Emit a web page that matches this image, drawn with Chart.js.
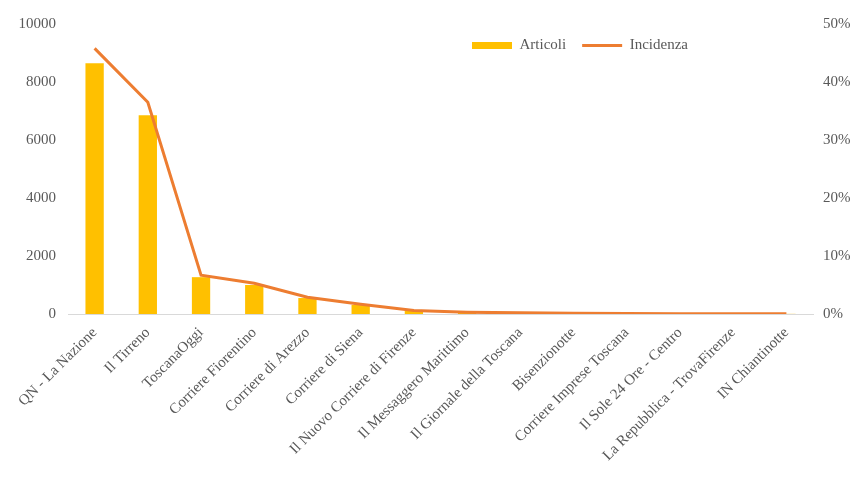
<!DOCTYPE html>
<html>
<head>
<meta charset="utf-8">
<script src="https://cdn.jsdelivr.net/npm/chart.js@4"></script>
<style>
  html, body { margin: 0; padding: 0; background: #fff; }
  .chart-container { width: 856px; height: 480px; position: relative; }
</style>
</head>
<body>
<div class="chart-container">
  <canvas id="chart"></canvas>
</div>
<script>
const testate = [
  'QN - La Nazione', 'Il Tirreno', 'ToscanaOggi', 'Corriere Fiorentino',
  'Corriere di Arezzo', 'Corriere di Siena', 'Il Nuovo Corriere di Firenze',
  'Il Messaggero Marittimo', 'Il Giornale della Toscana', 'Bisenzionotte',
  'Corriere Imprese Toscana', 'Il Sole 24 Ore - Centro',
  'La Repubblica - TrovaFirenze', 'IN Chiantinotte'
];
const articoli = [8650, 6850, 1270, 1000, 550, 310, 110, 55, 35, 25, 15, 10, 8, 5];
const incidenza = [45.8, 36.5, 6.7, 5.3, 2.9, 1.7, 0.6, 0.3, 0.2, 0.15, 0.1, 0.05, 0.04, 0.03];
const leftTicks = [0, 2000, 4000, 6000, 8000, 10000];
const rightTicks = [0, 10, 20, 30, 40, 50];

const textColor = '#595959';
const font = { family: '"Liberation Serif", "Times New Roman", serif', size: 15 };

// legenda su una riga, dentro l'area del grafico in alto a destra
const moveLegend = {
  id: 'moveLegend',
  beforeLayout(chart) {
    chart.legend.isHorizontal = () => true;
  },
  afterLayout(chart) {
    const lg = chart.legend;
    const dx = 456 - lg.left;
    lg.left += dx;
    lg.right += dx;
    lg.top -= 2;
    lg.bottom -= 2;
  }
};

new Chart(document.getElementById('chart'), {
  data: {
    labels: testate,
    datasets: [
      {
        type: 'bar',
        label: 'Articoli',
        data: articoli,
        backgroundColor: '#FFC000',
        borderWidth: 0,
        barPercentage: 0.43,
        categoryPercentage: 0.8,
        yAxisID: 'y',
        order: 2,
        pointStyle: 'rect'
      },
      {
        type: 'line',
        label: 'Incidenza',
        data: incidenza,
        borderColor: '#ED7D31',
        backgroundColor: '#ED7D31',
        borderWidth: 3,
        pointRadius: 0,
        tension: 0,
        yAxisID: 'y1',
        order: 1,
        pointStyle: 'line'
      }
    ]
  },
  options: {
    responsive: true,
    maintainAspectRatio: false,
    animation: false,
    layout: { padding: { top: 24, left: 0, right: 0, bottom: 0 } },
    plugins: {
      tooltip: { enabled: false },
      legend: {
        position: 'chartArea',
        align: 'start',
        labels: {
          usePointStyle: true,
          pointStyleWidth: 40,
          boxHeight: 7,
          padding: 16,
          color: textColor,
          font: font,
          sort: (a, b) => a.datasetIndex - b.datasetIndex
        }
      }
    },
    scales: {
      x: {
        grid: { display: false, drawTicks: false },
        border: { display: true, color: '#D9D9D9', width: 1 },
        ticks: {
          color: textColor,
          font: font,
          maxRotation: 45,
          minRotation: 45,
          autoSkip: false,
          padding: 10
        },
        afterFit: (scale) => { scale.height = 166; }
      },
      y: {
        position: 'left',
        min: 0,
        max: 10000,
        afterBuildTicks: (scale) => { scale.ticks = leftTicks.map(v => ({ value: v })); },
        grid: { display: false, drawTicks: false },
        border: { display: false },
        ticks: { color: textColor, font: font, padding: 12, callback: (v) => String(v) },
        afterFit: (scale) => { scale.width = 68; }
      },
      y1: {
        position: 'right',
        min: 0,
        max: 50,
        afterBuildTicks: (scale) => { scale.ticks = rightTicks.map(v => ({ value: v })); },
        grid: { display: false, drawTicks: false },
        border: { display: false },
        ticks: { color: textColor, font: font, padding: 10, callback: (v) => v + '%' },
        afterFit: (scale) => { scale.width = 43; }
      }
    }
  },
  plugins: [moveLegend]
});
</script>
</body>
</html>
